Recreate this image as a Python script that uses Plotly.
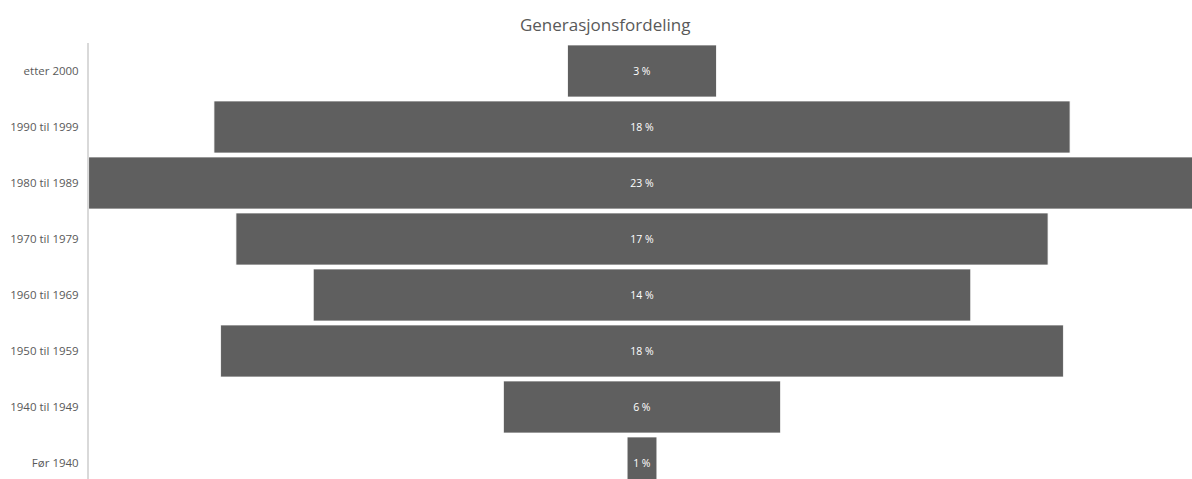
import plotly.graph_objects as go

categories = ["etter 2000", "1990 til 1999", "1980 til 1989", "1970 til 1979",
              "1960 til 1969", "1950 til 1959", "1940 til 1949", "Før 1940"]
values = [3.15, 18.1, 23.4, 17.17, 13.9, 17.82, 5.86, 0.63]
labels = ["3 %", "18 %", "23 %", "17 %", "14 %", "18 %", "6 %", "1 %"]

bases = [-v / 2 for v in values]
px_per_unit = 47.3

fig = go.Figure(go.Bar(
    y=categories, x=values, base=bases, orientation="h",
    marker=dict(color="#5f5f5f", line=dict(color="#ffffff", width=0.8)),
    text=labels, textposition="inside", insidetextanchor="middle",
    textfont=dict(color="#ffffff", size=10.5, family="Open Sans"),
    constraintext="none", hoverinfo="skip",
))

fig.update_layout(
    width=1192, height=479,
    margin=dict(l=89, r=0, t=43, b=0),
    paper_bgcolor="white", plot_bgcolor="white",
    bargap=0.07, showlegend=False,
    title=dict(text="Generasjonsfordeling", xref="paper", x=0.468, xanchor="center",
               yref="container", y=1 - 25 / 479, yanchor="middle",
               font=dict(family="Open Sans", size=17, color="#595959")),
)
fig.update_xaxes(range=[-553 / px_per_unit, 550 / px_per_unit], visible=False,
                 showgrid=False, zeroline=False)
fig.update_yaxes(
    type="category", categoryorder="array", categoryarray=categories,
    range=[7.5 - 12 / 56, -0.5],
    showgrid=False, zeroline=False, showline=True, linecolor="#d9d9d9", linewidth=2,
    ticks="", ticklabelstandoff=6,
    tickfont=dict(family="Open Sans", size=11.5, color="#595959"),
)

fig.write_html("out.html", config={"displayModeBar": False},
               post_script="document.body.style.margin='0';document.body.style.overflow='hidden';")
